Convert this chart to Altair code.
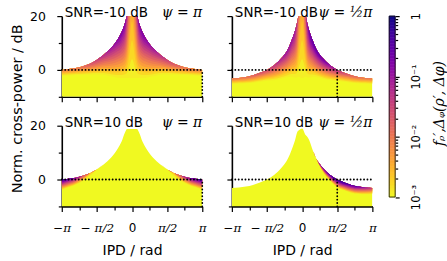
import math
import altair as alt
import pandas as pd

# ---------------- data ----------------
# IPD sample positions, in units of pi rad
IPD = [-1, -0.9, -0.8, -0.7, -0.6, -0.5, -0.4, -0.3, -0.2, -0.15, -0.1, -0.07, -0.05, 0,
       0.05, 0.07, 0.1, 0.15, 0.2, 0.3, 0.4, 0.5, 0.6, 0.7, 0.8, 0.9, 1]

# upper edge of the support (normalised cross-power, dB)
TOP_TL = [0.0, 0.3, 0.7, 1.4, 2.3, 3.8, 5.7, 8.1, 11.6, 14.0, 17.5, 20.5, 22.0, 25.0,
          22.0, 20.5, 17.5, 14.0, 11.6, 8.1, 5.7, 3.8, 2.3, 1.4, 0.7, 0.3, 0.0]
TOP_TR = [-3.2, -3.0, -2.6, -2.0, -1.1, 0.0, 1.7, 4.2, 7.9, 11.0, 14.7, 17.8, 20.5, 25.0,
          20.5, 17.8, 14.7, 11.0, 7.9, 4.2, 1.7, 0.0, -1.1, -2.0, -2.6, -3.0, -3.2]
TOP_BL = [0.0, 0.3, 0.7, 1.4, 2.3, 3.8, 5.7, 8.1, 11.6, 14.0, 17.5, 18.8, 18.8, 18.8,
          18.8, 18.8, 17.5, 14.0, 11.6, 8.1, 5.7, 3.8, 2.3, 1.4, 0.7, 0.3, 0.0]
TOP_BR = [-3.2, -3.0, -2.6, -2.0, -1.1, 0.0, 1.7, 4.2, 7.9, 11.0, 14.7, 17.6, 18.2, 19.0,
          16.5, 16.0, 14.7, 11.0, 7.9, 4.2, 1.7, 0.0, -1.1, -2.0, -2.6, -3.0, -3.2]

# log10 of the density right at the upper edge
LOG_TL = [-2.0, -2.0, -1.9, -1.8, -1.6, -1.4, -1.2, -1.0, -0.8, -0.7, -0.8, -1.3, -1.8, -2.4,
          -1.8, -1.3, -0.8, -0.7, -0.8, -1.0, -1.2, -1.4, -1.6, -1.8, -1.9, -2.0, -2.0]
LOG_TR = [-1.9, -1.9, -1.8, -1.7, -1.6, -1.5, -1.3, -1.1, -0.9, -0.9, -1.0, -1.4, -1.9, -2.4,
          -1.6, -1.0, -0.6, -0.45, -0.45, -0.6, -0.9, -1.2, -1.5, -1.7, -1.8, -1.9, -1.9]
LOG_BL = [-0.1, -0.4, -0.9, -1.6, -2.6, -3, -3, -3, -3, -3, -3, -3, -3, -3,
          -3, -3, -3, -3, -3, -3, -3, -3, -2.6, -1.6, -0.9, -0.4, -0.1]
LOG_BR = [-3, -3, -3, -3, -3, -3, -3, -3, -3, -3, -3, -3, -3, -3,
          -3, -3, -3, -3, -3, -0.6, -0.3, -0.1, -0.2, -0.4, -0.6, -1.0, -1.4]

# depth (dB below the edge) where the density has fallen to 1e-3
DEPTH_TL = [2.2, 2.4, 2.6, 3.2, 4.0, 5.5, 7.5, 10.5, 14.5, 17.0, 20.5, 23.5, 25.0, 28.0,
            25.0, 23.5, 20.5, 17.0, 14.5, 10.5, 7.5, 5.5, 4.0, 3.2, 2.6, 2.4, 2.2]
DEPTH_TR = [2.0, 2.1, 2.4, 2.8, 3.3, 4.0, 5.5, 7.5, 10.5, 13.5, 17.5, 20.5, 23.0, 28.0,
            23.0, 20.5, 17.5, 13.5, 10.5, 7.5, 5.5, 4.0, 3.3, 2.8, 2.4, 2.1, 2.0]
DEPTH_BL = [3.8, 3.2, 2.6, 2.0, 1.2, 1, 1, 1, 1, 1, 1, 1, 1, 1,
            1, 1, 1, 1, 1, 1, 1, 1, 1.2, 2.0, 2.6, 3.2, 3.8]
DEPTH_BR = [1, 1, 1, 1, 1, 1, 1, 1, 1, 1, 1, 1, 1, 1,
            1, 1, 1, 1, 1, 1.5, 2.2, 3.0, 3.0, 3.0, 2.8, 2.5, 2.2]

SNR_LABELS = ["SNR=-10 dB", "SNR=-10 dB", "SNR=10 dB", "SNR=10 dB"]
PSI_LABELS = ["ψ = π", "ψ = ½π", "ψ = π", "ψ = ½π"]
PSI_VALUES = [1, 0.5, 1, 0.5]          # true phase, units of pi
REF_DB = 0                             # dotted reference level
X_RANGE = [-1, 1]
Y_RANGE = [-10, 20]

X_TICKS = [-1, -0.75, -0.5, -0.25, 0, 0.25, 0.5, 0.75, 1]
Y_TICKS = [-10, 0, 10, 20]
CB_MAJOR = [-3, -2, -1, 0]
CB_LABELS = ["10⁻³", "10⁻²", "10⁻¹", "1"]

# ---------------- style ----------------
SANS = "DejaVu Sans"
SERIF = "DejaVu Serif"
YELLOW = "#f0f921"
STEP = 0.15
LEVELS = [round(-3 + STEP * k, 4) for k in range(20)]
cscale = alt.Scale(scheme="plasma", reverse=True, domain=[-3, 0])

PW, PH = 141, 81

x_lab = ("datum.value == -1 ? '−π' : datum.value == -0.5 ? '− π/2' : "
         "datum.value == 0 ? '0' : datum.value == 0.5 ? 'π/2' : "
         "datum.value == 1 ? 'π' : ''")
x_major = ("datum.value == -1 || datum.value == -0.5 || datum.value == 0 || "
           "datum.value == 0.5 || datum.value == 1")
y_major = "datum.value == 0 || datum.value == 20"


def panel(i, top, logd, depth, bottom_row, left_col):
    df = pd.DataFrame({"ipd": IPD, "top": top, "L0": logd, "T": depth})
    xaxis = alt.Axis(values=X_TICKS, labels=bottom_row, labelExpr=x_lab,
                     labelFlush=False, labelPadding=11, labelFontSize=12,
                     labelFont={"condition": {"test": "datum.value == 0", "value": SANS},
                                "value": SERIF},
                     labelFontStyle={"condition": {"test": "datum.value == 0", "value": "normal"},
                                     "value": "italic"},
                     tickSize={"condition": {"test": x_major, "value": 5}, "value": 3.5},
                     title="IPD / rad" if bottom_row else "", titlePadding=10)
    yaxis = alt.Axis(values=Y_TICKS, labels=left_col, labelFlush=False,
                     labelExpr="datum.value == 0 || datum.value == 20 ? datum.label : ''",
                     tickSize={"condition": {"test": y_major, "value": 5}, "value": 3.5},
                     labelPadding=11.5, labelFontSize=12.5, title="")

    def ex():
        return alt.X("ipd:Q", scale=alt.Scale(domain=X_RANGE, nice=False, zero=False), axis=xaxis)

    def ey(f):
        return alt.Y(f, type="quantitative",
                     scale=alt.Scale(domain=Y_RANGE, nice=False, zero=False), axis=yaxis)

    layers = [alt.Chart(df).transform_calculate(lo=str(Y_RANGE[0]))
              .mark_area(clip=True, interpolate="monotone", color=YELLOW)
              .encode(x=ex(), y=ey("top"), y2=alt.Y2("lo"))]
    for lam in LEVELS:
        lo = (f"datum.L0 > ({lam}) ? datum.top - datum.T * (datum.L0 - ({lam})) / (datum.L0 + 3)"
              f" : datum.top")
        layers.append(
            alt.Chart(df).transform_calculate(lo=lo, lev=str(round(lam + STEP / 2, 4)))
            .mark_area(clip=True, interpolate="monotone")
            .encode(x=ex(), y=ey("top"), y2=alt.Y2("lo"),
                    color=alt.Color("lev:Q", scale=cscale, legend=None)))
    hl = pd.DataFrame({"ipd": X_RANGE, "v": [REF_DB, REF_DB]})
    layers.append(alt.Chart(hl).mark_line(color="black", strokeDash=[0.1, 3.3], strokeCap="round",
                                          strokeWidth=1.8)
                  .encode(x=ex(), y=ey("v")))
    vl = pd.DataFrame({"ipd": [PSI_VALUES[i]], "v": [Y_RANGE[0]], "v2": [REF_DB]})
    layers.append(alt.Chart(vl).mark_rule(color="black", strokeDash=[0.1, 3.3], strokeCap="round",
                                          strokeWidth=1.8)
                  .encode(x=ex(), y=ey("v"), y2=alt.Y2("v2")))
    t1 = pd.DataFrame({"ipd": [X_RANGE[0]], "v": [Y_RANGE[1]], "t": [SNR_LABELS[i]]})
    layers.append(alt.Chart(t1).mark_text(align="left", baseline="alphabetic", dx=3, dy=1,
                                          font=SANS, fontSize=13.5, color="black")
                  .encode(x=ex(), y=ey("v"), text="t:N"))
    t2 = pd.DataFrame({"ipd": [X_RANGE[1]], "v": [Y_RANGE[1]], "t": [PSI_LABELS[i]]})
    layers.append(alt.Chart(t2).mark_text(align="right", baseline="alphabetic", dx=0, dy=1,
                                          font=SERIF, fontStyle="italic", fontSize=14,
                                          color="black")
                  .encode(x=ex(), y=ey("v"), text="t:N"))
    return alt.layer(*layers).properties(width=PW, height=PH)


TL = panel(0, TOP_TL, LOG_TL, DEPTH_TL, False, True)
TR = panel(1, TOP_TR, LOG_TR, DEPTH_TR, False, False)
BL = panel(2, TOP_BL, LOG_BL, DEPTH_BL, True, True)
BR = panel(3, TOP_BR, LOG_BR, DEPTH_BR, True, False)

grid = alt.concat(TL, TR, BL, BR, columns=2, spacing={"row": 29, "column": 29.7},
                  bounds="flush")

# ---------------- shared y title ----------------
ytitle = alt.Chart(pd.DataFrame({"v": [0]})).mark_point(opacity=0, size=1).encode(
    y=alt.Y("v:Q", axis=alt.Axis(title="Norm. cross-power / dB", labels=False, ticks=False,
                                 domain=False, titlePadding=0, titleFontSize=14.5,
                                 titleAngle=270, titleBaseline="bottom", titleAlign="center"))
).properties(width=1, height=185.2)

# ---------------- colour bar ----------------
cb_lo = [round(-3 + 0.05 * k, 3) for k in range(60)]
cb_df = pd.DataFrame({"lo": cb_lo, "hi": [v + 0.05 for v in cb_lo],
                      "mid": [v + 0.025 for v in cb_lo]})
cb_ticks = CB_MAJOR + [n + math.log10(k) for n in (-3, -2, -1) for k in range(2, 10)]
cb_lab = ("datum.value == -3 ? '%s' : datum.value == -2 ? '%s' : datum.value == -1 ? '%s' : "
          "datum.value == 0 ? '%s' : ''") % tuple(CB_LABELS)
cb_axis = alt.Axis(orient="right", values=cb_ticks, labelExpr=cb_lab, domain=False,
                   tickSize={"condition": {"test": "datum.value == -3 || datum.value == -2 || datum.value == -1 || datum.value == 0", "value": 4}, "value": 2.5},
                   labelAngle=270, labelAlign="center", labelBaseline="top", labelPadding=11,
                   labelFontSize=11.5, labelOverlap=False, labelFlush=False,
                   title="fᵨ′,Δᵩ(ρ′, Δφ)", titleAngle=270, titleFont=SERIF,
                   titleFontStyle="italic", titleFontWeight="normal", titleFontSize=14,
                   titleX=44, titleY=87.3, titleAlign="center", titleBaseline="middle")
cb_y = alt.Scale(domain=[-3, 0], nice=False, zero=False)
cb_rect = alt.Chart(cb_df).mark_rect(strokeWidth=0.6).encode(
    x=alt.value(0), x2=alt.value(6),
    y=alt.Y("lo:Q", scale=cb_y, axis=cb_axis), y2=alt.Y2("hi"),
    color=alt.Color("mid:Q", scale=cscale, legend=None),
    stroke=alt.Stroke("mid:Q", scale=cscale, legend=None))
cb_frame = alt.Chart(pd.DataFrame({"lo": [-3], "hi": [0]})).mark_rect(
    filled=False, stroke="black", strokeWidth=0.8).encode(
    x=alt.value(0), x2=alt.value(6),
    y=alt.Y("lo:Q", scale=cb_y, axis=cb_axis), y2=alt.Y2("hi"))
cbar = alt.layer(cb_rect, cb_frame).properties(width=6, height=181.6)

right = alt.hconcat(grid, cbar, spacing=11.6)
chart = (alt.hconcat(ytitle, right, spacing=3.4)
         .properties(padding={"left": 8.6, "top": 5.7, "right": 1, "bottom": 1})
         .configure_view(strokeWidth=0)
         .configure_axis(domainColor="black", domainWidth=1.6, tickColor="black",
                         tickWidth=1.2, labelColor="black", titleColor="black",
                         labelFont=SANS, titleFont=SANS, titleFontSize=14,
                         titleFontWeight="normal", grid=False))

chart.save("out.html", embed_options={"renderer": "svg", "actions": False})
